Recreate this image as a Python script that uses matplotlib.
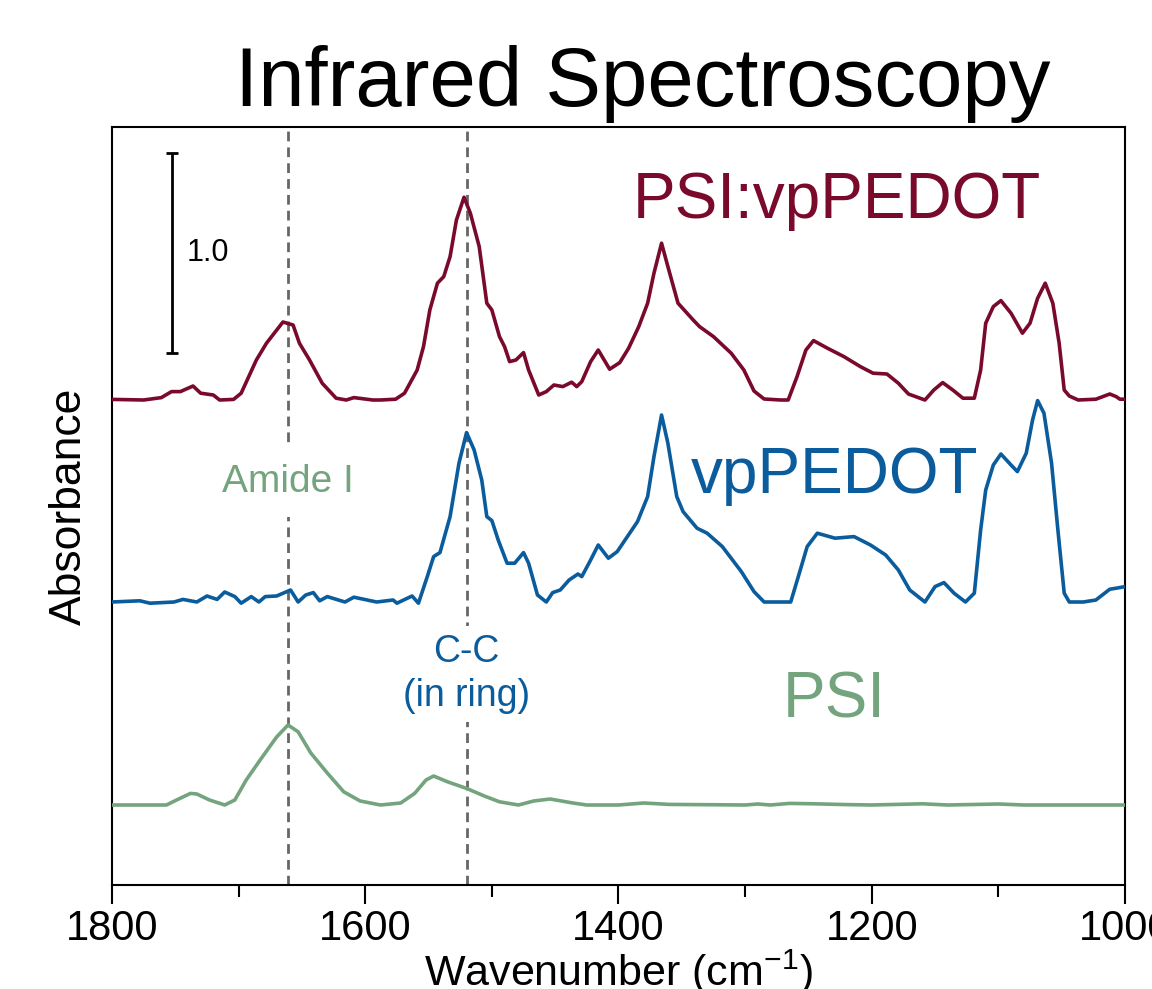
import numpy as np
import matplotlib
matplotlib.use('Agg')
import matplotlib.pyplot as plt

plt.rcParams['font.family'] = ['Liberation Sans', 'DejaVu Sans']
plt.rcParams['mathtext.fontset'] = 'custom'
plt.rcParams['mathtext.rm'] = 'Liberation Sans'

# PSI:vpPEDOT spectrum (wavenumber, absorbance above its own baseline)
wn_mix = [1800, 1775, 1761, 1753, 1746, 1736, 1730, 1720, 1715, 1704, 1698, 1686, 1678, 1665,
          1657, 1652, 1644, 1634, 1623, 1615, 1609, 1594, 1588, 1576, 1569, 1559, 1554, 1549,
          1543, 1538, 1533, 1528, 1522, 1517, 1510, 1504, 1500, 1494, 1490, 1486, 1481, 1475,
          1471, 1463, 1457, 1451, 1444, 1437, 1433, 1429, 1422, 1416, 1407, 1399, 1392, 1384,
          1377, 1372, 1366, 1361, 1353, 1341, 1336, 1325, 1311, 1301, 1293, 1285, 1272, 1266,
          1259, 1252, 1246, 1235, 1222, 1209, 1199, 1188, 1179, 1171, 1158, 1151, 1144, 1136,
          1128, 1119, 1114, 1110, 1104, 1098, 1090, 1081, 1075, 1069, 1063, 1057, 1052, 1048,
          1044, 1037, 1023, 1012, 1007, 1004, 1000]
abs_mix = [0.003, 0.0, 0.012, 0.042, 0.042, 0.07, 0.034, 0.025, 0.0, 0.003, 0.034, 0.20, 0.284, 0.39,
           0.375, 0.284, 0.20, 0.084, 0.009, 0.0, 0.012, 0.0, 0.0, 0.004, 0.034, 0.15, 0.267, 0.45,
           0.584, 0.617, 0.717, 0.90, 1.014, 0.934, 0.767, 0.484, 0.45, 0.317, 0.267, 0.192, 0.20, 0.237,
           0.15, 0.025, 0.042, 0.075, 0.067, 0.089, 0.067, 0.092, 0.192, 0.25, 0.154, 0.187, 0.259, 0.367,
           0.484, 0.634, 0.784, 0.667, 0.484, 0.40, 0.367, 0.317, 0.234, 0.15, 0.045, 0.005, 0.0, 0.0,
           0.117, 0.25, 0.297, 0.259, 0.217, 0.167, 0.134, 0.13, 0.084, 0.03, 0.0, 0.05, 0.087, 0.05,
           0.009, 0.009, 0.15, 0.384, 0.467, 0.497, 0.434, 0.334, 0.384, 0.509, 0.584, 0.484, 0.284, 0.05,
           0.02, 0.0, 0.004, 0.03, 0.017, 0.004, 0.004]

# vpPEDOT spectrum
wn_pedot = [1800, 1778, 1770, 1751, 1744, 1733, 1725, 1717, 1711, 1703, 1698, 1690, 1684, 1679,
            1670, 1659, 1653, 1647, 1641, 1636, 1630, 1616, 1609, 1591, 1578, 1575, 1563, 1558,
            1551, 1546, 1541, 1533, 1526, 1520, 1514, 1508, 1504, 1500, 1495, 1488, 1482, 1475,
            1471, 1464, 1457, 1452, 1446, 1439, 1432, 1429, 1422, 1416, 1408, 1401, 1393, 1385,
            1377, 1372, 1366, 1361, 1354, 1349, 1338, 1330, 1318, 1303, 1293, 1285, 1272, 1264,
            1258, 1251, 1243, 1229, 1214, 1201, 1189, 1179, 1170, 1158, 1150, 1143, 1135, 1126,
            1119, 1114, 1110, 1104, 1098, 1090, 1085, 1078, 1073, 1069, 1064, 1058, 1053, 1048,
            1044, 1033, 1023, 1012, 1007, 1000]
abs_pedot = [0.0, 0.006, -0.006, 0.0, 0.013, 0.0, 0.03, 0.013, 0.05, 0.027, -0.006, 0.027, 0.0, 0.027,
             0.03, 0.06, 0.0, 0.035, 0.047, 0.006, 0.027, 0.0, 0.024, 0.0, 0.01, -0.006, 0.03, -0.006,
             0.127, 0.227, 0.247, 0.427, 0.694, 0.847, 0.76, 0.61, 0.427, 0.407, 0.31, 0.194, 0.194, 0.247,
             0.194, 0.035, 0.0, 0.047, 0.06, 0.11, 0.14, 0.127, 0.21, 0.285, 0.219, 0.252, 0.327, 0.402,
             0.527, 0.727, 0.935, 0.794, 0.527, 0.452, 0.369, 0.344, 0.277, 0.152, 0.052, 0.0, 0.0, 0.0,
             0.127, 0.277, 0.344, 0.319, 0.327, 0.285, 0.235, 0.16, 0.06, 0.0, 0.077, 0.097, 0.044, 0.0,
             0.044, 0.36, 0.56, 0.685, 0.74, 0.685, 0.652, 0.744, 0.91, 1.007, 0.944, 0.694, 0.36, 0.044,
             0.0, 0.0, 0.01, 0.064, 0.069, 0.077]

# PSI spectrum
wn_psi = [1800, 1757, 1749, 1738, 1733, 1723, 1711, 1703, 1694, 1683, 1670, 1661, 1653, 1643,
          1630, 1617, 1604, 1588, 1572, 1561, 1552, 1546, 1535, 1520, 1506, 1494, 1479, 1467,
          1454, 1436, 1425, 1400, 1380, 1360, 1340, 1300, 1290, 1280, 1265, 1245, 1220, 1200,
          1160, 1140, 1100, 1080, 1000]
abs_psi = [0.0, 0.0, 0.025, 0.058, 0.055, 0.025, 0.0, 0.025, 0.125, 0.225, 0.34, 0.40, 0.366, 0.26,
           0.16, 0.066, 0.02, 0.0, 0.01, 0.058, 0.125, 0.145, 0.116, 0.083, 0.045, 0.016, 0.0, 0.02,
           0.03, 0.01, 0.0, 0.0, 0.01, 0.003, 0.002, 0.0, 0.005, 0.0, 0.008, 0.006, 0.002, 0.0,
           0.006, 0.0, 0.005, 0.0, 0.0]

names = ['PSI:vpPEDOT', 'vpPEDOT', 'PSI']
offsets = [2.425, 1.415, 0.40]
colors = ['#7a0a2c', '#0a5c9c', '#74a47e']

amide_pos = 1661
ring_pos = 1520

fig = plt.figure(figsize=(11.52, 9.89), dpi=100)
ax = fig.add_axes([112 / 1152, 1 - 885 / 989, 1013 / 1152, 758 / 989])

# Reference lines
for pos in [amide_pos, ring_pos]:
    ax.axvline(pos, color='#666666', lw=2, ls=(0, (3.5, 2.2)), zorder=1)

# Spectra
for wn, ab, off, c in zip([wn_mix, wn_pedot, wn_psi], [abs_mix, abs_pedot, abs_psi], offsets, colors):
    ax.plot(wn, np.array(ab) + off, color=c, lw=2.6, solid_joinstyle='round', zorder=3)

# Scale bar
ax.errorbar(1752.5, 3.16, yerr=0.5, color='black', lw=2, capsize=4.5, capthick=2)
ax.text(1741, 3.16, '1.0', fontsize=22, va='center', ha='left')

# Labels
ax.text(1389, 3.335, names[0], color=colors[0], fontsize=46, va='baseline', ha='left')
ax.text(1343, 1.96, names[1], color=colors[1], fontsize=46, va='baseline', ha='left')
ax.text(1270, 0.835, names[2], color=colors[2], fontsize=46, va='baseline', ha='left')
ax.text(amide_pos, 2.015, 'Amide I', color=colors[2], fontsize=28, ha='center', va='center',
        bbox=dict(facecolor='white', edgecolor='none', pad=12), zorder=2)
ax.text(ring_pos, 1.055, 'C-C\n(in ring)', color=colors[1], fontsize=27, ha='center', va='center',
        linespacing=1.25, bbox=dict(facecolor='white', edgecolor='none', pad=6), zorder=2)

ax.set_xlim(1800, 1000)
ax.set_ylim(0, 3.79)
ax.set_yticks([])
ax.set_xticks([1800, 1600, 1400, 1200, 1000])
ax.set_xticks([1700, 1500, 1300, 1100], minor=True)
ax.tick_params(axis='x', which='major', direction='out', length=14, width=1.5, labelsize=30, pad=3)
ax.tick_params(axis='x', which='minor', direction='out', length=8.5, width=1.5)
for s in ax.spines.values():
    s.set_linewidth(1.5)

ax.set_xlabel(r'Wavenumber (cm$^{\mathregular{-1}}$)', fontsize=31, labelpad=-1)
ax.set_ylabel('Absorbance', fontsize=32, labelpad=16)

fig.text(643 / 1152, 1 - 106 / 989, 'Infrared Spectroscopy', fontsize=60, ha='center', va='baseline')

plt.savefig('out.png', dpi=100)
